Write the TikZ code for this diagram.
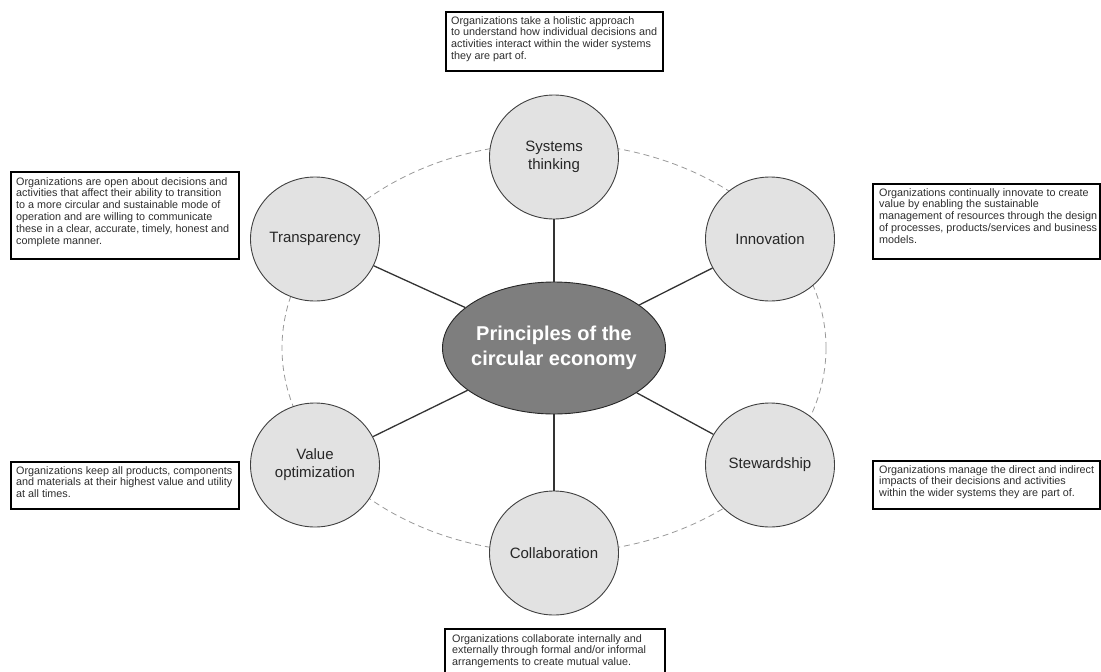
\documentclass[tikz,border=0pt]{standalone}
\usepackage{fontspec}
\setmainfont{Liberation Sans}
\usetikzlibrary{shapes.geometric}
\definecolor{ringfill}{HTML}{E2E2E2}
\definecolor{corefill}{HTML}{7E7E7E}
\definecolor{notetext}{HTML}{2E2E2E}
\begin{document}
\begin{tikzpicture}[x=1pt,y=-1pt,
  principle/.style={ellipse, draw=black!75, line width=0.9pt, fill=ringfill,
    minimum width=129pt, minimum height=124pt, inner sep=0pt, align=center,
    font=\fontsize{15}{18}\selectfont, text=black!85},
  core/.style={ellipse, draw=black!85, line width=0.9pt, fill=corefill,
    minimum width=223pt, minimum height=132pt, inner sep=-6pt, align=center,
    text=white, font=\bfseries\fontsize{20}{25}\selectfont},
  spoke/.style={draw=black!80, line width=1.3pt},
  ring/.style={draw=black!40, line width=0.8pt, dash pattern=on 6pt off 4pt},
  notebox/.style={draw=black, line width=1.8pt, fill=white},
  notetxt/.style={anchor=north west, inner sep=0pt, align=left, text=notetext,
    font=\fontsize{10.8}{11.8}\selectfont}]
\useasboundingbox (0,0) rectangle (1101,672);

% dashed orbit through the six principles
\draw[ring] (554,348) ellipse [x radius=272pt, y radius=205pt];

% principles
\node[core] (core) at (554,348) {Principles of the\\circular economy};
\node[principle] (sys)  at (554,157) {Systems\\thinking};
\node[principle] (tra)  at (315,239) {Transparency};
\node[principle] (inn)  at (770,239) {Innovation};
\node[principle] (val)  at (315,465) {Value\\optimization};
\node[principle] (ste)  at (770,465) {Stewardship};
\node[principle] (col)  at (554,553) {Collaboration};

% spokes
\foreach \p in {sys,tra,inn,val,ste,col}
  \draw[spoke] (core) -- (\p);

% description boxes
\draw[notebox] (446,12) rectangle (663,71);
\node[notetxt] (dsys) at (451,16) {Organizations take a holistic approach\\
to understand how individual decisions and\\
activities interact within the wider systems\\
they are part of.};

\draw[notebox] (11,172) rectangle (239,259);
\node[notetxt] (dtra) at (16,177) {Organizations are open about decisions and\\
activities that affect their ability to transition\\
to a more circular and sustainable mode of\\
operation and are willing to communicate\\
these in a clear, accurate, timely, honest and\\
complete manner.};

\draw[notebox] (873,184) rectangle (1100,259);
\node[notetxt] (dinn) at (879,188) {Organizations continually innovate to create\\
value by enabling the sustainable\\
management of resources through the design\\
of processes, products/services and business\\
models.};

\draw[notebox] (11,462) rectangle (239,509);
\node[notetxt] (dval) at (16,466) {Organizations keep all products, components\\
and materials at their highest value and utility\\
at all times.};

\draw[notebox] (873,461) rectangle (1100,509);
\node[notetxt] (dste) at (879,465) {Organizations manage the direct and indirect\\
impacts of their decisions and activities\\
within the wider systems they are part of.};

\draw[notebox] (445,629) rectangle (665,674);
\node[notetxt] (dcol) at (452,634) {Organizations collaborate internally and\\
externally through formal and/or informal\\
arrangements to create mutual value.};
\end{tikzpicture}
\end{document}
